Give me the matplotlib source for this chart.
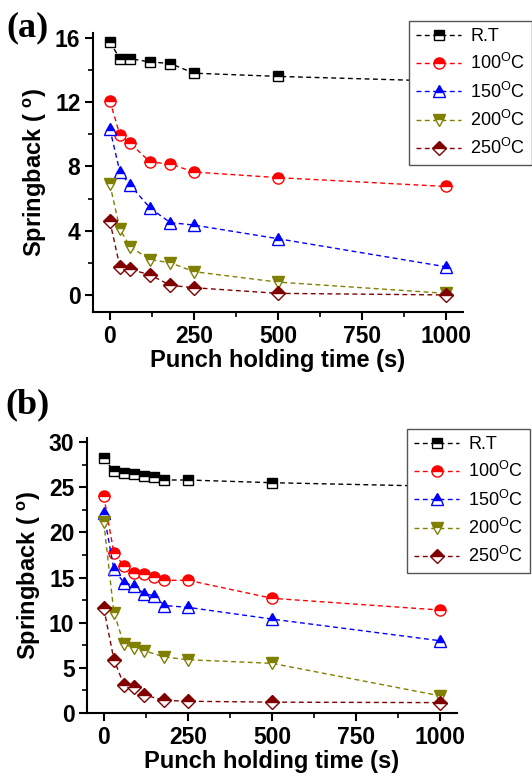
import matplotlib
matplotlib.use("Agg")
import matplotlib.pyplot as plt
from matplotlib.ticker import MultipleLocator

# ---------------- data ----------------
labels = ["R.T", "100$^{\\mathregular{O}}$C", "150$^{\\mathregular{O}}$C",
          "200$^{\\mathregular{O}}$C", "250$^{\\mathregular{O}}$C"]

# panel (a)
time_a = [0, 30, 60, 120, 180, 250, 500, 1000]
a_rt = [15.75, 14.7, 14.7, 14.5, 14.4, 13.8, 13.6, 13.3]
a_100 = [12.1, 9.95, 9.45, 8.27, 8.15, 7.65, 7.3, 6.75]
a_150 = [10.35, 7.65, 6.85, 5.4, 4.5, 4.35, 3.5, 1.75]
a_200 = [6.9, 4.1, 3.0, 2.2, 2.0, 1.45, 0.8, 0.1]
a_250 = [4.6, 1.75, 1.6, 1.25, 0.6, 0.45, 0.1, 0.0]

# panel (b)
time_b_full = [0, 30, 60, 90, 120, 150, 180, 250, 500, 1000]
time_b_part = [0, 30, 60, 90, 120, 180, 250, 500, 1000]
b_rt = [28.2, 26.8, 26.6, 26.5, 26.2, 26.1, 25.8, 25.8, 25.5, 25.1]
b_100 = [24.0, 17.7, 16.3, 15.5, 15.4, 15.1, 14.7, 14.7, 12.7, 11.4]
b_150 = [22.1, 15.9, 14.4, 14.1, 13.2, 13.0, 11.9, 11.7, 10.4, 8.0]
b_200 = [21.1, 11.1, 7.6, 7.2, 6.9, 6.2, 5.9, 5.5, 1.9]
b_250 = [11.6, 5.9, 3.1, 2.9, 2.0, 1.4, 1.3, 1.2, 1.15]

colors = ["black", "#FF0000", "#0000FF", "#808000", "#800000"]
markers = ["s", "o", "^", "v", "D"]
msizes = [7, 8, 8.5, 8.5, 7]

plt.rcParams['font.family'] = ['Liberation Sans', 'DejaVu Sans']
plt.rcParams['mathtext.fontset'] = 'custom'
plt.rcParams['mathtext.rm'] = 'Liberation Sans'
plt.rcParams['mathtext.bf'] = 'Liberation Sans:bold'

fig = plt.figure(figsize=(5.32, 7.73), dpi=100)

def style_axes(ax, ylim, ymaj, ymin_):
    ax.set_xlim(-50, 1050)
    ax.set_ylim(*ylim)
    ax.xaxis.set_major_locator(MultipleLocator(250))
    ax.xaxis.set_minor_locator(MultipleLocator(125))
    ax.yaxis.set_major_locator(MultipleLocator(ymaj))
    ax.yaxis.set_minor_locator(MultipleLocator(ymin_))
    for s in ["top", "right"]:
        ax.spines[s].set_visible(False)
    for s in ["left", "bottom"]:
        ax.spines[s].set_linewidth(1.5)
    ax.tick_params(which="major", direction="out", length=6, width=1.5,
                   labelsize=16.5, pad=3)
    ax.tick_params(which="minor", direction="out", length=3.5, width=1.2)
    for lab in ax.get_xticklabels() + ax.get_yticklabels():
        lab.set_fontweight("bold")
    ax.set_xlabel("Punch holding time (s)", fontsize=17, fontweight="bold", labelpad=1)
    ax.set_ylabel("Springback ( $^{\\mathregular{o}}$)", fontsize=17,
                  fontweight="bold", labelpad=4)

def plot_series(ax, xs_list, ys_list):
    handles = []
    for xs, ys, c, m, ms, lab in zip(xs_list, ys_list, colors, markers, msizes, labels):
        h, = ax.plot(xs, ys, linestyle=(0, (3.5, 2.5)), linewidth=1.0, color=c,
                     marker=m, markersize=ms, fillstyle="top",
                     markerfacecolor=c, markerfacecoloralt="white",
                     markeredgecolor=c, markeredgewidth=1.0, label=lab)
        handles.append(h)
    return handles

def add_legend(handles, x, y):
    leg = fig.legend(handles=handles, loc="upper left", bbox_to_anchor=(x, y),
                     fontsize=13, frameon=True, fancybox=False, framealpha=1,
                     handlelength=2.5, handletextpad=0.5, labelspacing=0.45,
                     borderpad=0.4, borderaxespad=0)
    leg.get_frame().set_edgecolor("#555555")
    leg.get_frame().set_linewidth(1.0)
    return leg

# panel (a)
ax1 = fig.add_axes([93/532, 1-312/773, 370/532, 279/773])
h1 = plot_series(ax1, [time_a]*5, [a_rt, a_100, a_150, a_200, a_250])
style_axes(ax1, (-1.06, 16.3), 4, 2)
add_legend(h1, 409/532, 1-21/773)

# panel (b)
ax2 = fig.add_axes([87/532, 1-713/773, 370/532, 275/773])
h2 = plot_series(ax2, [time_b_full, time_b_full, time_b_full, time_b_part, time_b_part],
                 [b_rt, b_100, b_150, b_200, b_250])
style_axes(ax2, (0, 30.45), 5, 2.5)
add_legend(h2, 407/532, 1-429/773)

fig.text(6/532, 1-36/773, "(a)", fontsize=26, fontweight="bold",
         family=["Liberation Serif", "DejaVu Serif"], ha="left", va="baseline")
fig.text(5/532, 1-413/773, "(b)", fontsize=26, fontweight="bold",
         family=["Liberation Serif", "DejaVu Serif"], ha="left", va="baseline")

fig.savefig("out.png", dpi=100)
